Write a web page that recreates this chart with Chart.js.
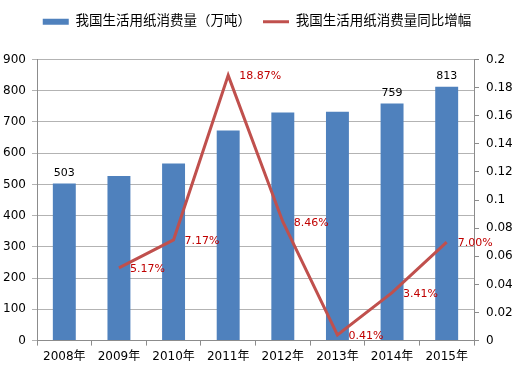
<!DOCTYPE html>
<html>
<head>
<meta charset="utf-8">
<script src="https://cdn.jsdelivr.net/npm/chart.js@4"></script>
<style>
  html, body { margin: 0; padding: 0; background: #fff; }
  #wrap { width: 518px; height: 372px; }
</style>
</head>
<body>
<div id="wrap"><canvas id="paperChart" width="518" height="372"></canvas></div>
<script>
const ctx = document.getElementById("paperChart").getContext("2d");

const YEARS = ["2008年", "2009年", "2010年", "2011年", "2012年", "2013年", "2014年", "2015年"];
const CONSUMPTION = [503, 527, 567, 673, 730, 733, 759, 813];
const GROWTH = [null, 0.0517, 0.0717, 0.1887, 0.0846, 0.0041, 0.0341, 0.07];
// only some bars carry a value label in the original
const BAR_LABELS = ["503", "", "", "", "", "", "759", "813"];
const LEFT_TICKS = [0, 100, 200, 300, 400, 500, 600, 700, 800, 900];
const RIGHT_TICKS = [0, 0.02, 0.04, 0.06, 0.08, 0.1, 0.12, 0.14, 0.16, 0.18, 0.2];

const FONT = "'DejaVu Sans', 'Noto Sans CJK SC', sans-serif";
const COLORS = {
  bar: "#4f81bd",
  line: "#c0504d",
  label: "#c00000",
  grid: "#b3b3b3",
  axis: "#8c8c8c",
};

// draws value labels for the bars and the line
const valueLabels = {
  id: "valueLabels",
  afterInit(chart) {
    // leave extra room between legend and plot
    const fit = chart.legend.fit;
    chart.legend.fit = function () {
      fit.call(this);
      this.height += 21;
    };
  },
  afterDatasetsDraw(chart) {
    const c = chart.ctx;
    c.save();
    c.font = "11px " + FONT;
    c.textBaseline = "bottom";
    c.textAlign = "center";
    c.fillStyle = "#000";
    chart.getDatasetMeta(0).data.forEach((bar, i) => {
      if (BAR_LABELS[i]) c.fillText(BAR_LABELS[i], bar.x, bar.y - 5);
    });
    c.textAlign = "left";
    c.textBaseline = "middle";
    c.fillStyle = COLORS.label;
    chart.getDatasetMeta(1).data.forEach((pt, i) => {
      if (GROWTH[i] == null) return;
      c.fillText((GROWTH[i] * 100).toFixed(2) + "%", pt.x + 11, pt.y + 1);
    });
    c.restore();
  },
};

const data = {
  labels: YEARS,
  datasets: [
    {
      type: "bar",
      label: "我国生活用纸消费量（万吨）",
      data: CONSUMPTION,
      backgroundColor: COLORS.bar,
      borderColor: COLORS.bar,
      yAxisID: "y",
      barPercentage: 0.42,
      categoryPercentage: 1,
      order: 2,
    },
    {
      type: "line",
      label: "我国生活用纸消费量同比增幅",
      data: GROWTH,
      borderColor: COLORS.line,
      backgroundColor: COLORS.line,
      borderWidth: 3,
      pointRadius: 0,
      tension: 0,
      yAxisID: "y1",
      order: 1,
    },
  ],
};

const config = {
  data: data,
  options: {
    responsive: false,
    animation: false,
    layout: { padding: { top: 3, left: 0, right: 4, bottom: 4 } },
    plugins: {
      legend: {
        display: true,
        position: "top",
        labels: {
          font: { family: FONT, size: 13.5 },
          color: "#000",
          usePointStyle: true,
          pointStyleWidth: 26,
          boxHeight: 6,
          padding: 12,
          generateLabels(chart) {
            return chart.data.datasets.map((ds, i) => ({
              text: ds.label,
              fillStyle: i === 0 ? COLORS.bar : COLORS.line,
              strokeStyle: i === 0 ? COLORS.bar : COLORS.line,
              lineWidth: i === 0 ? 0 : 3,
              pointStyle: i === 0 ? "rect" : "line",
              datasetIndex: i,
            }));
          },
        },
      },
      tooltip: { enabled: false },
    },
    scales: {
      x: {
        offset: true,
        grid: {
          offset: true,
          drawOnChartArea: false,
          tickLength: 5,
          color: COLORS.axis,
        },
        border: { color: COLORS.axis },
        ticks: { font: { family: FONT, size: 12 }, color: "#000", padding: 4 },
      },
      y: {
        position: "left",
        min: 0,
        max: 900,
        afterBuildTicks(axis) {
          axis.ticks = LEFT_TICKS.map((v) => ({ value: v }));
        },
        afterFit(axis) {
          axis.width = 37;
        },
        grid: { color: COLORS.grid, tickLength: 5 },
        border: { color: COLORS.axis },
        ticks: { font: { family: FONT, size: 12 }, color: "#000", padding: 6 },
      },
      y1: {
        position: "right",
        min: 0,
        max: 0.2,
        afterBuildTicks(axis) {
          axis.ticks = RIGHT_TICKS.map((v) => ({ value: v }));
        },
        afterFit(axis) {
          axis.width = 40;
        },
        grid: { drawOnChartArea: false, tickLength: 5, color: COLORS.axis },
        border: { color: COLORS.axis },
        ticks: {
          font: { family: FONT, size: 12 },
          color: "#000",
          padding: 7,
          callback: (v) => String(+v.toFixed(2)),
        },
      },
    },
  },
  plugins: [valueLabels],
};

const paperChart = new Chart(ctx, config);
</script>
</body>
</html>
